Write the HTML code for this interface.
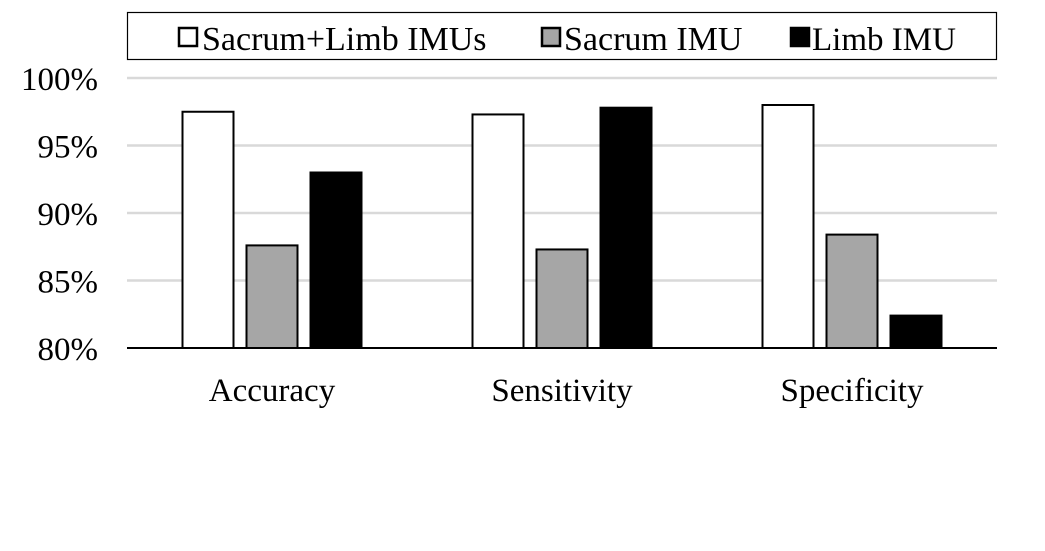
<!DOCTYPE html>
<html><head><meta charset="utf-8"><style>
html,body{margin:0;padding:0;background:#fff;}
svg{display:block;font-family:"Liberation Serif",serif;}
</style></head><body>
<svg id="chart" width="1045" height="551" viewBox="0 0 1045 551">
<rect x="0" y="0" width="1045" height="551" fill="#fff"/>
<g id="legend">
<rect x="127.5" y="12.5" width="869" height="47" fill="#fff" stroke="#000" stroke-width="1.2"/>
<rect x="179" y="28" width="18" height="18" fill="#fff" stroke="#000" stroke-width="2.5"/>
<text x="202" y="50" font-size="34">Sacrum+Limb IMUs</text>
<rect x="542" y="28" width="18" height="18" fill="#a6a6a6" stroke="#000" stroke-width="2.5"/>
<text x="564" y="50" font-size="34">Sacrum IMU</text>
<rect x="791" y="28" width="18" height="18" fill="#000" stroke="#000" stroke-width="2.5"/>
<text x="812" y="50" font-size="33">Limb IMU</text>
</g>
<g id="grid"></g>
<g id="bars"></g>
<g id="axes"></g>
</svg>
<script>
const categories = ["Accuracy","Sensitivity","Specificity"];
const seriesNames = ["Sacrum+Limb IMUs","Sacrum IMU","Limb IMU"];
const sacrumLimb = [97.5, 97.3, 98.0];
const sacrum = [87.6, 87.3, 88.4];
const limb = [93.0, 97.8, 82.4];
const yTicks = [80, 85, 90, 95, 100];
const yTickLabels = ["80%","85%","90%","95%","100%"];

const NS="http://www.w3.org/2000/svg";
const x0=127, x1=997, yTop=78, yBot=348, yMin=80, yMax=100;
function yScale(v){return yBot-(v-yMin)/(yMax-yMin)*(yBot-yTop);}
const band=(x1-x0)/categories.length;
function xCenter(i){return x0+band*(i+0.5);}
const barW=51, step=64;
function mk(tag,attrs,parent){const e=document.createElementNS(NS,tag);for(const k in attrs)e.setAttribute(k,attrs[k]);parent.appendChild(e);return e;}
const grid=document.getElementById('grid'), bars=document.getElementById('bars'), axes=document.getElementById('axes');
yTicks.forEach((t,i)=>{
  const y=yScale(t);
  if(i>0){const l=mk('line',{x1:x0,x2:x1,y1:y,y2:y,stroke:'#d9d9d9','stroke-width':2.5},grid);
  
  }
  const tx=mk('text',{x:98,y:y+12,'font-size':33,'text-anchor':'end'},axes);
  tx.textContent=yTickLabels[i];
  
  
});
const series=[sacrumLimb,sacrum,limb], fills=['#fff','#a6a6a6','#000'], names=['bar-sacrum-limb','bar-sacrum','bar-limb'];
categories.forEach((c,i)=>{
  series.forEach((s,j)=>{
    const cx=xCenter(i)+(j-1)*step;
    const y=yScale(s[i]);
    const r=mk('rect',{x:cx-barW/2,y:y,width:barW,height:yBot-y,fill:fills[j],stroke:'#000','stroke-width':2},bars);
    
    
  });
  const t=mk('text',{x:xCenter(i),y:401,'font-size':33,'text-anchor':'middle'},axes);
  t.textContent=c;
  
  
});
const ax=mk('line',{x1:x0,x2:x1,y1:yBot,y2:yBot,stroke:'#000','stroke-width':2},axes);


</script>
</body></html>
